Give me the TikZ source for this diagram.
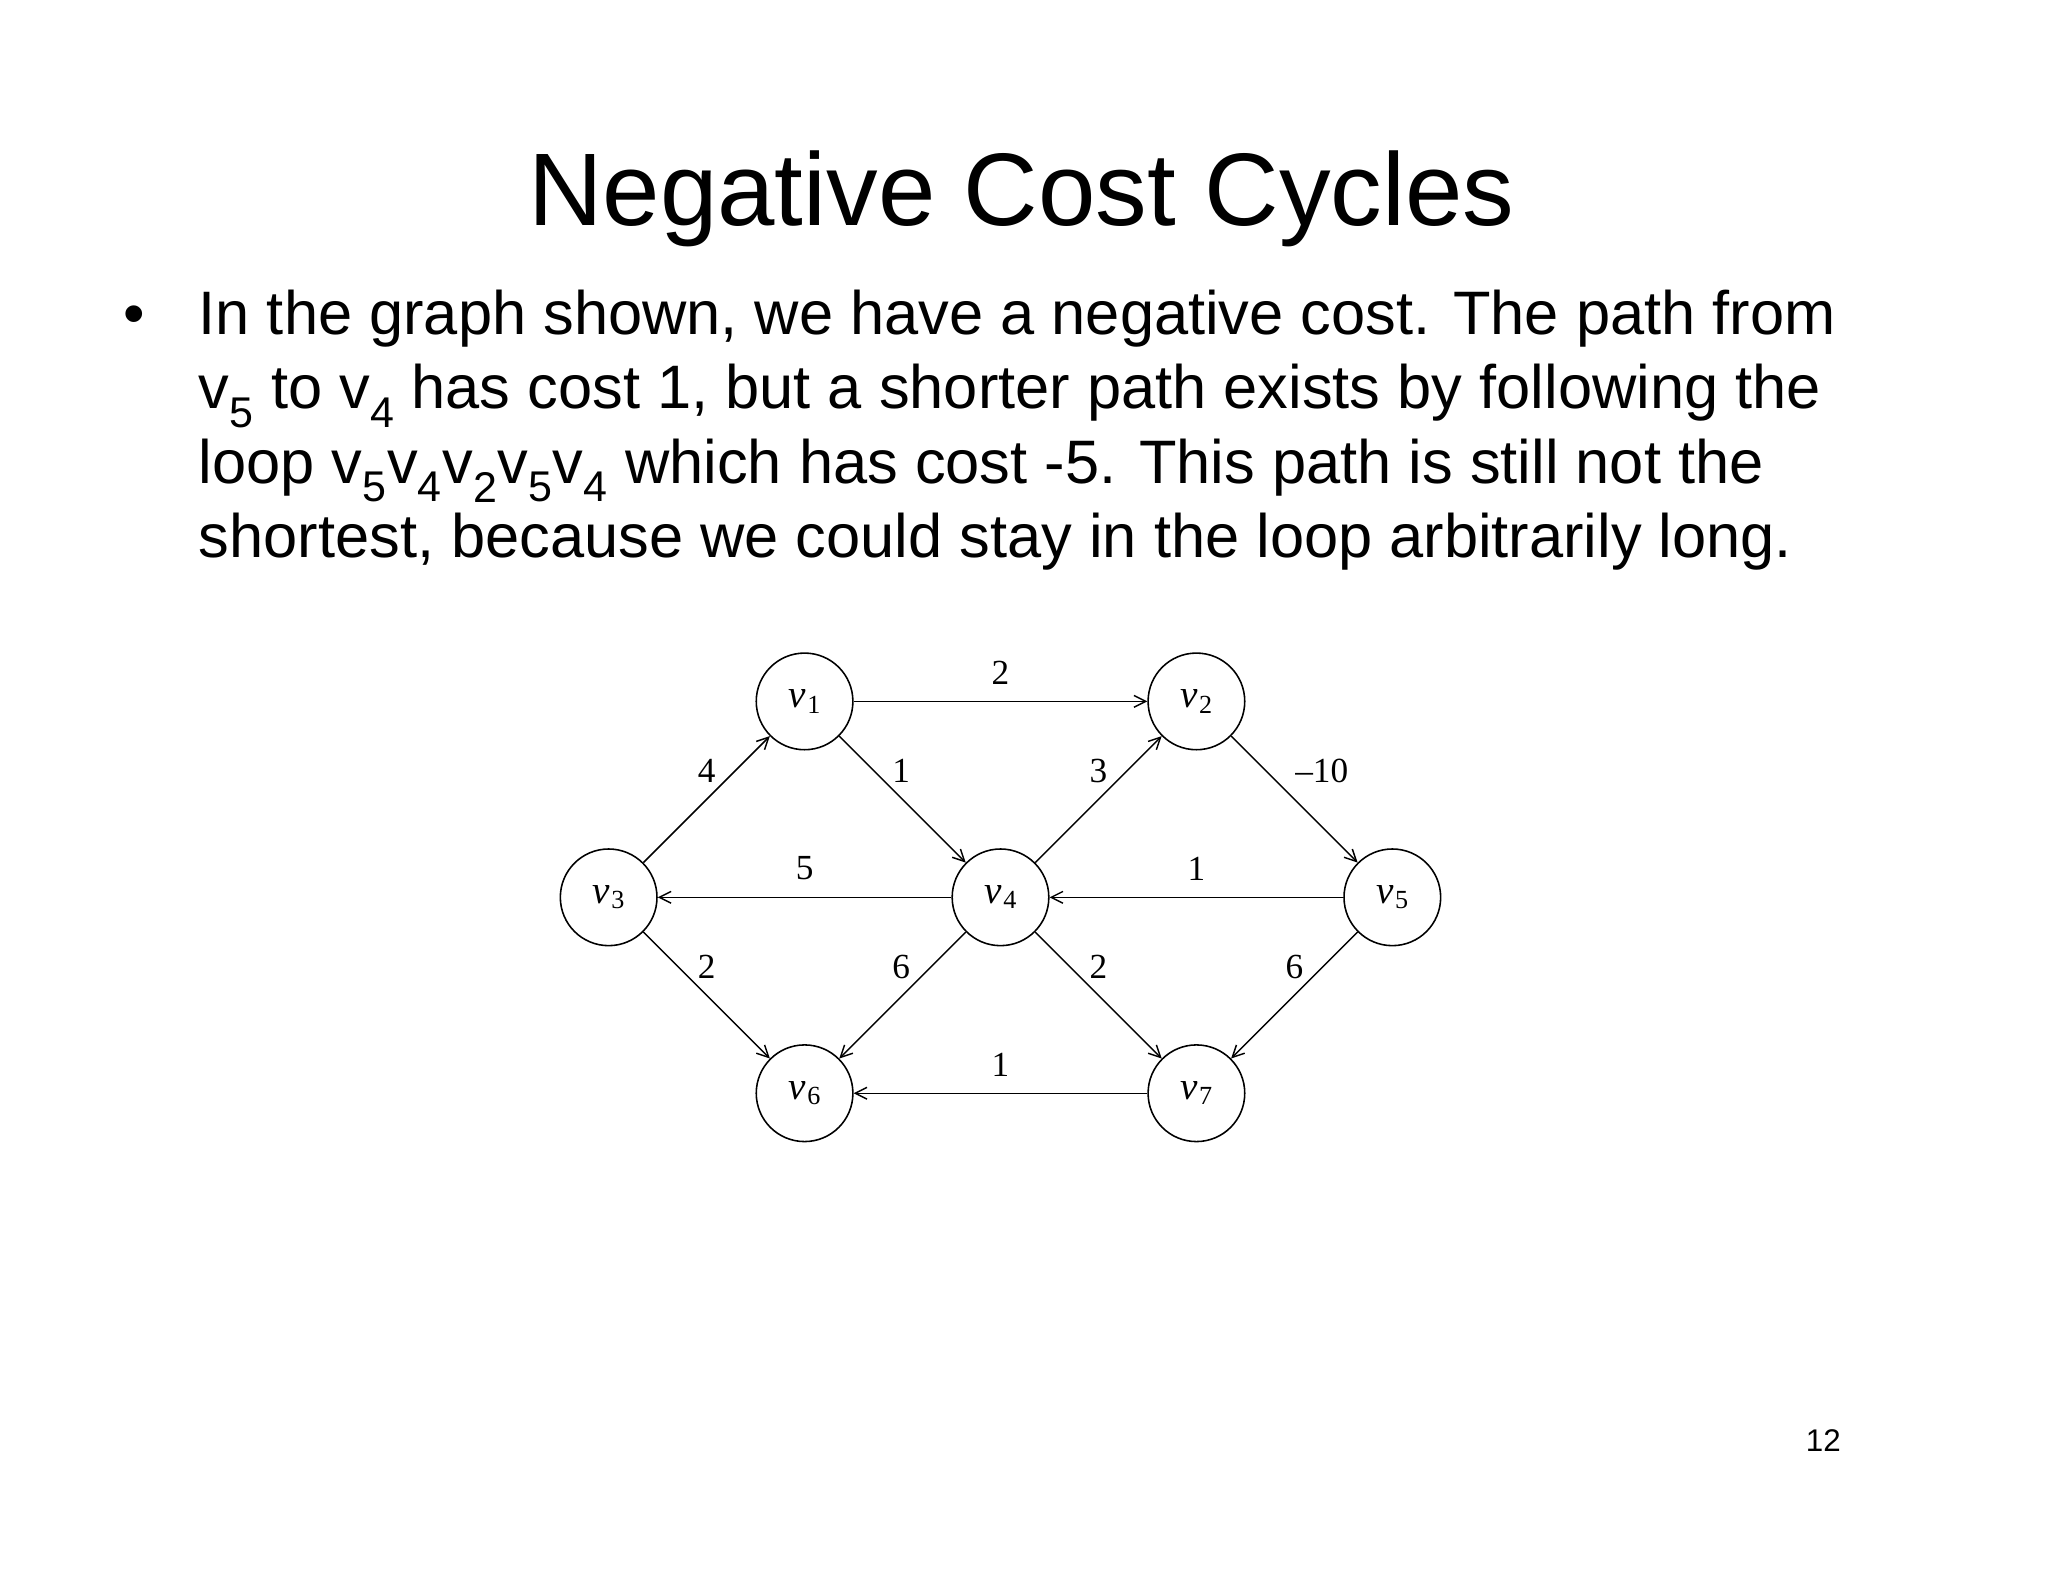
\documentclass[tikz,border=0pt]{standalone}
\usepackage{fontspec}
\setmainfont{Liberation Sans}
\newfontfamily\serifl{Liberation Serif}
\usetikzlibrary{arrows.meta}
\newcommand{\vv}[1]{{\serifl\itshape v}\kern1pt{\serifl\fontsize{20}{22}\selectfont\raisebox{-4pt}{#1}}}
\begin{document}
\begin{tikzpicture}[x=1pt,y=-1pt,
  vtx/.style={circle,draw,line width=1.2pt,minimum size=74pt,inner sep=0pt,font=\fontsize{30}{32}\selectfont},
  edge/.style={line width=1.1pt,-{Straight Barb[length=9pt,width=9pt]}},
  wt/.style={font=\serifl\fontsize{27}{30}\selectfont,inner sep=0pt},
  body/.style={anchor=base west,inner sep=0pt,font=\fontsize{47}{50}\selectfont}]
\useasboundingbox (0,0) rectangle (1568,1211);
\node[inner sep=0pt,font=\fontsize{79}{84}\selectfont] (title) at (782,152) {Negative Cost Cycles};
\node[inner sep=0pt,font=\fontsize{47}{50}\selectfont,anchor=base] (bul) at (103,256) {•};
\node[body] (l1) at (152,256) {In the graph shown, we have a negative cost. The path from};
\node[body] (l2) at (152,313) {v\textsubscript{5} to v\textsubscript{4} has cost 1, but a shorter path exists by following the};
\node[body] (l3) at (152,370) {loop v\textsubscript{5}v\textsubscript{4}v\textsubscript{2}v\textsubscript{5}v\textsubscript{4} which has cost -5. This path is still not the};
\node[body] (l4) at (152,427) {shortest, because we could stay in the loop arbitrarily long.};
\node[vtx] (v1) at (616,537) {\vv1};
\node[vtx] (v2) at (916,537) {\vv2};
\node[vtx] (v3) at (466,687) {\vv3};
\node[vtx] (v4) at (766,687) {\vv4};
\node[vtx] (v5) at (1066,687) {\vv5};
\node[vtx] (v6) at (616,837) {\vv6};
\node[vtx] (v7) at (916,837) {\vv7};
\draw[edge] (v1) -- (v2);
\draw[edge] (v3) -- (v1);
\draw[edge] (v1) -- (v4);
\draw[edge] (v4) -- (v2);
\draw[edge] (v2) -- (v5);
\draw[edge] (v4) -- (v3);
\draw[edge] (v5) -- (v4);
\draw[edge] (v3) -- (v6);
\draw[edge] (v4) -- (v6);
\draw[edge] (v4) -- (v7);
\draw[edge] (v5) -- (v7);
\draw[edge] (v7) -- (v6);
\node[wt] (w12) at (766,515) {2};
\node[wt] (w31) at (541,590) {4};
\node[wt] (w14) at (690,590) {1};
\node[wt] (w42) at (841,590) {3};
\node[wt] (w25) at (1012,590) {–10};
\node[wt] (w43) at (616,665) {5};
\node[wt] (w54) at (916,665) {1};
\node[wt] (w36) at (541,740) {2};
\node[wt] (w46) at (690,740) {6};
\node[wt] (w47) at (841,740) {2};
\node[wt] (w57) at (991,740) {6};
\node[wt] (w76) at (766,815) {1};
\node[inner sep=0pt,font=\fontsize{24}{26}\selectfont] (pg) at (1396,1103) {12};
\end{tikzpicture}
\end{document}
